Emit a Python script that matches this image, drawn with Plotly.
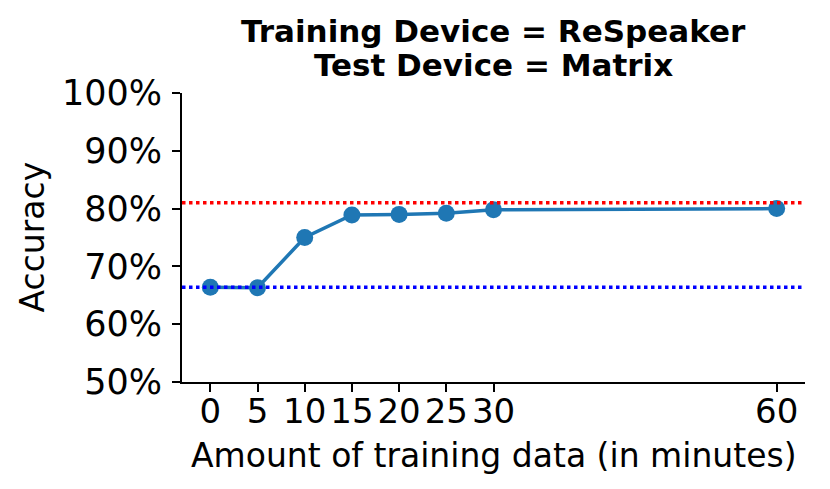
import plotly.graph_objects as go

# Daten
minutes = [0, 5, 10, 15, 20, 25, 30, 60]
accuracy = [66.4, 66.3, 75.0, 78.9, 79.0, 79.2, 79.8, 80.0]
upper_ref = 81.0   # rote Linie
lower_ref = 66.4   # blaue Linie
y_ticks = [50, 60, 70, 80, 90, 100]

title_lines = ["Training Device = ReSpeaker", "Test Device = Matrix"]
x_title = "Amount of training data (in minutes)"
y_title = "Accuracy"

font_name = "DejaVu Sans"

# der Browser legt 8px Rand um die Seite, daher 822x481
fig = go.Figure()

fig.add_trace(go.Scatter(
    x=minutes,
    y=accuracy,
    mode="lines+markers",
    line=dict(color="#1f77b4", width=3.5),
    marker=dict(color="#1f77b4", size=17),
    showlegend=False,
))

# horizontale Referenzlinien
for val, col in [(upper_ref, "red"), (lower_ref, "blue")]:
    fig.add_shape(type="line", xref="x domain", yref="y",
                  x0=0, x1=1, y0=val, y1=val,
                  line=dict(color=col, width=3.5, dash="dot"))

fig.update_layout(
    width=822,
    height=481,
    margin=dict(l=174, r=25, t=85, b=107),
    plot_bgcolor="white",
    paper_bgcolor="white",
    font=dict(family=font_name, color="black"),
)

# Titel als zwei Zeilen
for i, line in enumerate(title_lines):
    fig.add_annotation(text=f"<b>{line}</b>", xref="paper", yref="paper",
                       x=0.5, y=1, xanchor="center", yanchor="middle",
                       yshift=62 - 34 * i, showarrow=False,
                       font=dict(size=31))

fig.add_annotation(text=x_title, xref="paper", yref="paper",
                   x=0.5, y=0, xanchor="center", yanchor="middle",
                   yshift=-73, showarrow=False, font=dict(size=33))
fig.add_annotation(text=y_title, xref="paper", yref="paper",
                   x=0, y=0.5, xanchor="center", yanchor="middle",
                   xshift=-150, textangle=-90, showarrow=False,
                   font=dict(size=33))

fig.update_xaxes(
    range=[-3, 63],
    tickvals=minutes,
    ticktext=[str(m) for m in minutes],
    tickfont=dict(size=34),
    ticklabelstandoff=-10,
    showline=True, linecolor="black", linewidth=2,
    ticks="outside", ticklen=8, tickwidth=2, tickcolor="black",
    showgrid=False, zeroline=False,
)

fig.update_yaxes(
    range=[50, 100],
    tickvals=y_ticks,
    ticktext=[f"{v}%" for v in y_ticks],
    tickfont=dict(size=35),
    ticklabelstandoff=3,
    showline=True, linecolor="black", linewidth=2,
    ticks="outside", ticklen=8, tickwidth=2, tickcolor="black",
    showgrid=False, zeroline=False,
)

fig.write_html("out.html")
